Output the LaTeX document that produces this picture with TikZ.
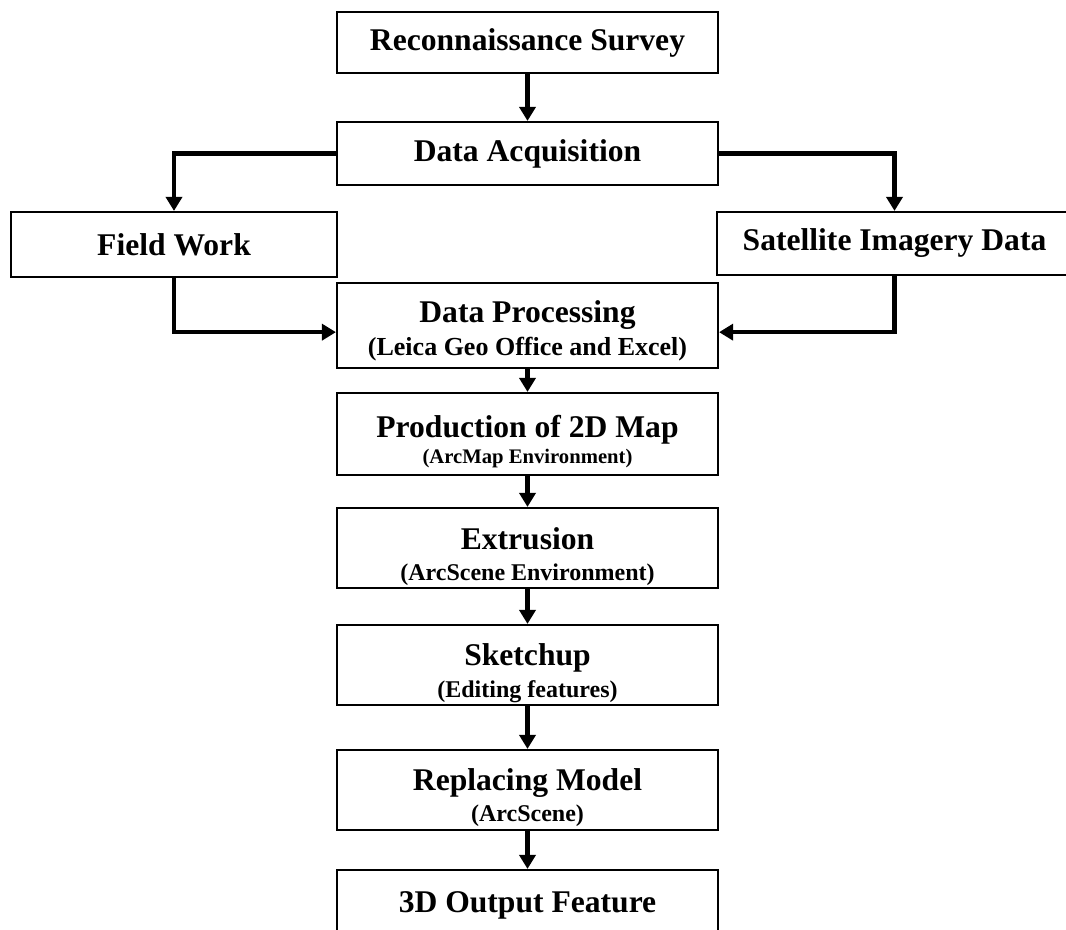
\documentclass[tikz,border=0pt]{standalone}
\usepackage{fontspec}
\setmainfont{Liberation Serif}
\usetikzlibrary{arrows.meta}
\tikzset{
  stepbox/.style={draw, line width=1.6pt, inner sep=0pt, minimum width=285.75pt,
    font=\fontsize{23.7}{28}\selectfont\bfseries},
  ttl/.style={font=\fontsize{23.7}{28}\selectfont\bfseries, anchor=base, inner sep=0pt},
  sub/.style={font=\fontsize{18}{21}\selectfont\bfseries, anchor=base, inner sep=0pt},
  flow/.style={line width=3.4pt, -{Triangle[width=12pt,length=10.5pt]}}
}
\begin{document}
\begin{tikzpicture}[x=0.75pt,y=-0.75pt]
  \clip (0,0) rectangle (1066,930);
  % boxes
  \node[stepbox, minimum height=45.75pt] (recon) at (527.5,42.5) {Reconnaissance Survey};
  \node[stepbox, minimum height=47.25pt] (acq) at (527.5,153.5) {Data Acquisition};
  \node[stepbox, minimum width=244.5pt, minimum height=48.75pt] (field) at (174,244.5) {Field Work};
  \node[stepbox, minimum width=266.25pt, minimum height=47.25pt] (sat) at (894.5,243.5) {Satellite Imagery Data};
  \node[stepbox, minimum height=63.75pt] (proc) at (527.5,325.5) {};
  \node[stepbox, minimum height=61.5pt] (map) at (527.5,434) {};
  \node[stepbox, minimum height=60pt] (extr) at (527.5,548) {};
  \node[stepbox, minimum height=60pt] (sketch) at (527.5,665) {};
  \node[stepbox, minimum height=60pt] (repl) at (527.5,790) {};
  \node[stepbox, minimum height=52.5pt] (out) at (527.5,905) {3D Output Feature};
  % texts
  \node[ttl] (proct) at (527.5,323) {Data Processing};
  \node[sub, font=\fontsize{19.5}{22}\selectfont\bfseries] (procs) at (527.5,355) {(Leica Geo Office and Excel)};
  \node[ttl] (mapt) at (527.5,437) {Production of 2D Map};
  \node[sub, font=\fontsize{15.5}{18}\selectfont\bfseries] (maps) at (527.5,463) {(ArcMap Environment)};
  \node[ttl] (extrt) at (527.5,549) {Extrusion};
  \node[sub] (extrs) at (527.5,580) {(ArcScene Environment)};
  \node[ttl] (sketcht) at (527.5,665) {Sketchup};
  \node[sub] (sketchs) at (527.5,697) {(Editing features)};
  \node[ttl] (replt) at (527.5,790) {Replacing Model};
  \node[sub] (repls) at (527.5,821) {(ArcScene)};
  % arrows
  \draw[flow] (recon) -- (acq);
  \draw[flow] (acq.west) -| (field.north);
  \draw[flow] (acq.east) -| (sat.north);
  \draw[flow] (field.south) |- ([yshift=-5pt]proc.west);
  \draw[flow] (sat.south) |- ([yshift=-5pt]proc.east);
  \draw[flow] (proc) -- (map);
  \draw[flow] (map) -- (extr);
  \draw[flow] (extr) -- (sketch);
  \draw[flow] (sketch) -- (repl);
  \draw[flow] (repl) -- (out);
\end{tikzpicture}
\end{document}
